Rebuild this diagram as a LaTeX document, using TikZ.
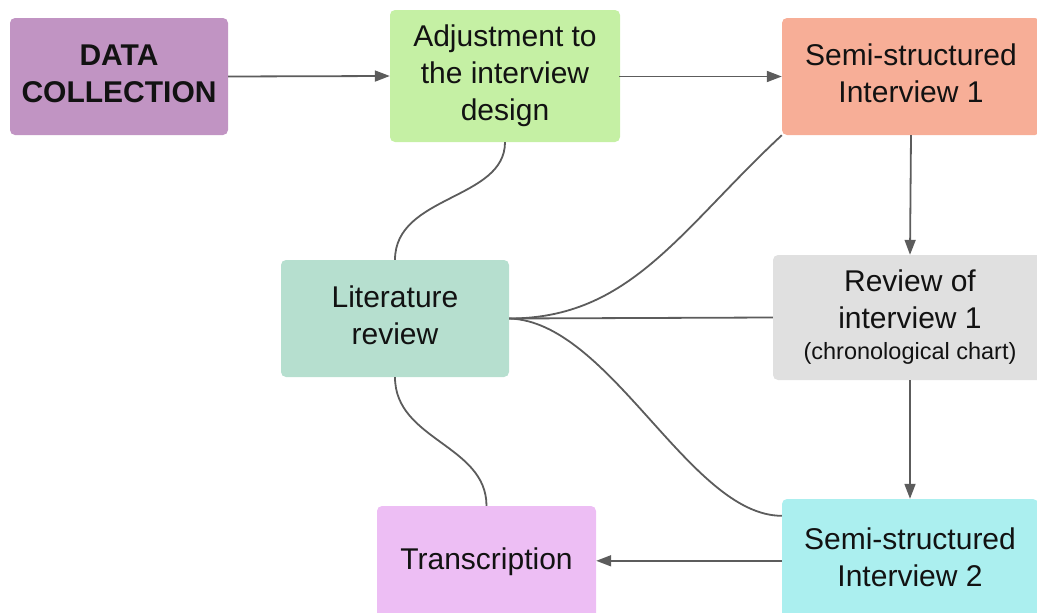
\documentclass[tikz,border=0pt]{standalone}
\usepackage{fontspec}
\setmainfont{Liberation Sans}
\usetikzlibrary{arrows.meta,calc}

\definecolor{dcfill}{HTML}{C194C3}
\definecolor{adjfill}{HTML}{C5F0A4}
\definecolor{ssionefill}{HTML}{F7AE97}
\definecolor{litfill}{HTML}{B6DFCF}
\definecolor{revfill}{HTML}{E0E0E0}
\definecolor{transfill}{HTML}{EDBEF4}
\definecolor{ssitwofill}{HTML}{ABEFEF}
\definecolor{linkgray}{HTML}{5C5C5C}

% centred lines of text, raised by the given amount inside the box
\newcommand\boxtext[2]{\raisebox{#1}{\begin{tabular}{@{}c@{}}#2\end{tabular}}}

\tikzset{
  box/.style={rectangle, rounded corners=5pt, draw=none, inner sep=0pt,
    align=center, text=black!93,
    font=\fontsize{30}{37}\selectfont},
  flow/.style={draw=linkgray, line width=1.8pt,
    -{Triangle[length=15pt,width=11pt]}},
  link/.style={draw=linkgray, line width=1.8pt}
}

\begin{document}
\begin{tikzpicture}[x=1pt,y=-1pt]
\useasboundingbox (0,0) rectangle (1037,613);
\clip (0,0) rectangle (1037,613);

% process boxes
\node[box, fill=dcfill, minimum width=218pt, minimum height=117pt,
      font=\fontsize{30}{37}\selectfont\bfseries]
      (dc) at (119,76.5) {\boxtext{3pt}{DATA\\COLLECTION}};
\node[box, fill=adjfill, minimum width=230pt, minimum height=132pt]
      (adj) at (505,76) {\boxtext{1pt}{Adjustment to\\the interview\\design}};
\node[box, fill=ssionefill, minimum width=258pt, minimum height=117pt]
      (ssi1) at (911,76.5) {\boxtext{3.5pt}{Semi-structured\\Interview 1}};
\node[box, fill=litfill, minimum width=228pt, minimum height=117pt]
      (lit) at (395,318.5) {\boxtext{2.5pt}{Literature\\review}};
\node[box, fill=revfill, minimum width=274pt, minimum height=125pt]
      (rev) at (910,317.5)
      {Review of\\interview 1\\[-6pt]{\fontsize{23.5}{27}\selectfont (chronological chart)}};
\node[box, fill=transfill, minimum width=219pt, minimum height=120pt]
      (trans) at (486.5,566) {\boxtext{21pt}{Transcription}};
\node[box, fill=ssitwofill, minimum width=256pt, minimum height=124pt]
      (ssi2) at (910,561) {\boxtext{19pt}{Semi-structured\\Interview 2}};

% attachment point on the lower left of the second interview
\coordinate (ssi2in) at ($(ssi2.north west)+(0,17)$);

% main sequence
\draw[flow] (dc.east) -- (adj.west);
\draw[flow] (adj.east) -- (ssi1.west -| adj.east) -- (ssi1.west);
\draw[flow] (ssi1.south) -- (rev.north);
\draw[flow] (rev.south) -- (ssi2.north);
\draw[flow] ($(ssi2.north west)+(0,62)$) -- ($(trans.north east)+(0,55)$);

% literature review links
\draw[link] (adj.south) .. controls ($(adj.south)+(0,58)$) and ($(lit.north)+(0,-65)$) .. (lit.north);
\draw[link] (lit.south) .. controls ($(lit.south)+(0,63)$) and ($(trans.north)+(0,-61)$) .. (trans.north);
\draw[link] (lit.east) .. controls ($(lit.east)+(121,0)$) and ($(ssi1.south west)+(-102,95)$) .. (ssi1.south west);
\draw[link] (lit.east) -- (rev.west);
\draw[link] (lit.east) .. controls ($(lit.east)+(101,3)$) and ($(ssi2in)+(-92,0)$) .. (ssi2in);
\end{tikzpicture}
\end{document}
